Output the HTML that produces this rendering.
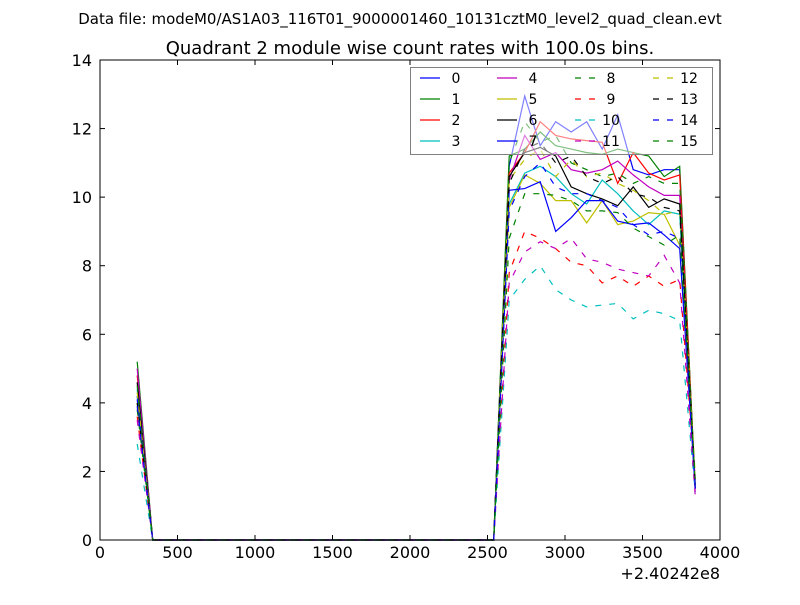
<!DOCTYPE html>
<html><head><meta charset="utf-8"><style>
body{margin:0;background:#fff;}
svg{font-family:"DejaVu Sans","Liberation Sans",sans-serif;}
</style></head><body>
<svg id="c" width="800" height="600">
<text x="400" y="24" text-anchor="middle" font-size="15">Data file: modeM0/AS1A03_116T01_9000001460_10131cztM0_level2_quad_clean.evt</text>
<text x="410" y="54" text-anchor="middle" font-size="18">Quadrant 2 module wise count rates with 100.0s bins.</text>
<g id="plot"></g>
</svg>
<script>
const xStart = 240, xStep = 100;
const first = [4.2,5.2,4.8,4.4,5.0,4.0,4.6,4.1,3.8,3.6,2.8,3.5,4.3,4.0,3.9,4.5];
const mid = [
[10.9,12.95,11.5,12.2,11.9,12.2,11.4,12.4,10.8,10.65,10.8,10.8],
[11.2,11.4,11.9,11.5,11.4,11.3,11.25,11.4,11.3,11.2,10.6,10.9],
[10.7,11.3,12.2,11.8,11.7,11.65,11.6,10.4,11.3,10.7,10.5,10.65],
[9.8,10.7,10.9,10.6,10.1,9.8,10.5,10.1,9.6,9.2,9.6,9.5],
[10.5,11.8,11.1,11.3,10.8,10.7,10.8,11.05,10.65,10.3,10.05,10.05],
[9.7,10.65,10.4,9.9,9.9,9.25,9.9,9.2,9.3,9.55,9.5,8.6],
[10.6,11.3,11.45,11.2,10.3,10.1,9.95,9.75,10.3,9.7,9.95,9.8],
[10.2,10.25,10.45,9.0,9.4,9.9,9.9,9.3,9.2,9.25,8.9,8.5],
[11.0,12.2,11.6,11.8,11.0,10.8,10.6,10.7,10.4,10.6,10.4,10.4],
[7.8,9.0,8.8,8.5,8.1,8.0,7.5,7.7,7.4,7.7,7.4,7.6],
[7.0,7.6,8.0,7.3,7.0,6.8,6.85,6.9,6.45,6.7,6.6,6.4],
[7.5,8.4,8.7,8.5,8.8,8.2,8.1,7.9,7.8,7.7,8.3,7.5],
[10.5,11.1,11.4,10.6,11.1,10.6,10.7,10.4,10.2,9.9,9.5,9.6],
[10.4,11.4,11.6,11.0,11.2,10.6,10.4,10.6,10.1,10.0,9.7,9.6],
[9.6,10.6,11.0,10.3,10.1,10.1,9.9,9.7,9.2,8.9,9.0,8.8],
[8.8,10.1,10.1,10.05,9.9,9.6,9.6,9.55,9.1,8.85,8.6,8.9]];
const last = [1.5,1.6,1.6,1.5,1.4,1.7,1.5,1.5,1.6,1.8,1.4,1.3,1.9,1.7,1.6,1.8];
const colors = ['#0000ff','#008000','#ff0000','#00bfbf','#bf00bf','#bfbf00','#000000'];
const xTicks = [0,500,1000,1500,2000,2500,3000,3500,4000];
const yTicks = [0,2,4,6,8,10,12,14];
const L=100,R=720,T=60,B=540;
const xs = v => L + v/4000*(R-L);
const ys = v => B - v/14*(B-T);
const NS='http://www.w3.org/2000/svg';
const g = document.getElementById('plot');
function mk(t,a,p){const e=document.createElementNS(NS,t);for(const k in a)e.setAttribute(k,a[k]);(p||g).appendChild(e);return e;}
for(let s=0;s<16;s++){
  const vals=[first[s]];
  for(let x=340;x<=2540;x+=100) vals.push(0);
  vals.push(...mid[s]); vals.push(last[s]);
  const pts=vals.map((v,i)=>xs(xStart+i*xStep).toFixed(1)+','+ys(v).toFixed(1)).join(' ');
  const pl=mk('polyline',{points:pts,fill:'none',stroke:colors[s%7],'stroke-width':1.2});
  if(s>=8) pl.setAttribute('stroke-dasharray','6,8');
  
  
}
const lg=mk('g',{});


mk('rect',{x:410.5,y:67.5,width:302,height:87,fill:'rgba(255,255,255,0.5)',stroke:'#808080','stroke-width':1},lg);
const colX=[420,497,575,653], rowY=[78,99,120,141];
for(let s=0;s<16;s++){
  const c=Math.floor(s/4), r=s%4;
  const en=mk('g',{},lg);
  
  
  const ln=mk('line',{x1:colX[c],x2:colX[c]+20,y1:rowY[r],y2:rowY[r],stroke:colors[s%7],'stroke-width':1.2},en);
  if(s>=8) ln.setAttribute('stroke-dasharray','6,8');
  const t=mk('text',{x:colX[c]+36,y:rowY[r]+5,'font-size':14,'text-anchor':'middle'},en);
  t.textContent=s;
}
const fr=mk('rect',{x:L,y:T,width:R-L,height:B-T,fill:'none',stroke:'#000','stroke-width':1});


xTicks.forEach(v=>{const x=xs(v);
  mk('line',{x1:x,x2:x,y1:B,y2:B-5,stroke:'#000'});mk('line',{x1:x,x2:x,y1:T,y2:T+5,stroke:'#000'});
  const t=mk('text',{x:x,y:B+18,'font-size':16,'text-anchor':'middle'});t.textContent=v;
  
  });
yTicks.forEach(v=>{const y=ys(v);
  mk('line',{x1:L,x2:L+5,y1:y,y2:y,stroke:'#000'});mk('line',{x1:R,x2:R-5,y1:y,y2:y,stroke:'#000'});
  const t=mk('text',{x:L-8,y:y+6,'font-size':16,'text-anchor':'end'});t.textContent=v;
  
  });
const off=mk('text',{x:720,y:579,'font-size':16,'text-anchor':'end'});off.textContent='+2.40242e8';


</script>
</body></html>
